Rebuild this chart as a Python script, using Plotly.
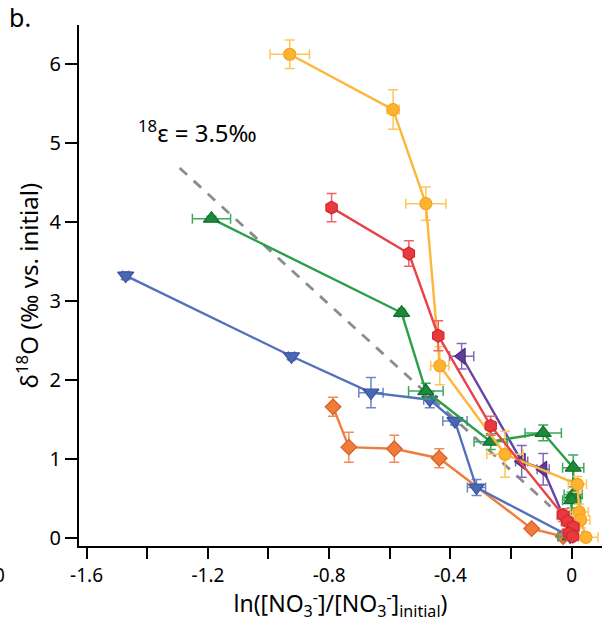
import plotly.graph_objects as go

# ---- data ----
yellow_x = [-0.93, -0.589, -0.481, -0.435, -0.22, 0.019, 0.025, 0.03, 0.047]
yellow_y = [6.12, 5.42, 4.23, 2.18, 1.06, 0.68, 0.33, 0.23, 0.01]
yellow_ex = [0.065, 0.02, 0.066, 0.03, 0.06, 0.03, 0.03, 0.03, 0.04]
yellow_ey = [0.18, 0.25, 0.21, 0.24, 0.29, 0.1, 0.1, 0.1, 0.05]

red_x = [-0.792, -0.537, -0.44, -0.267, -0.028, -0.014, 0.005, -0.008, 0.003]
red_y = [4.18, 3.60, 2.56, 1.42, 0.29, 0.21, 0.14, 0.06, 0.02]
red_ex = [0.01, 0.01, 0.01, 0.015, 0.02, 0.02, 0.02, 0.02, 0.02]
red_ey = [0.18, 0.16, 0.19, 0.12, 0.08, 0.06, 0.06, 0.06, 0.05]

green_x = [-1.188, -0.561, -0.481, -0.267, -0.094, 0.005, 0.005, 0.0, -0.005]
green_y = [4.04, 2.85, 1.86, 1.22, 1.33, 0.89, 0.55, 0.48, 0.02]
green_ex = [0.063, 0.01, 0.057, 0.055, 0.06, 0.035, 0.03, 0.03, 0.04]
green_ey = [0.03, 0.03, 0.1, 0.1, 0.1, 0.16, 0.1, 0.1, 0.05]

blue_x = [-1.471, -0.924, -0.662, -0.468, -0.385, -0.314, -0.005]
blue_y = [3.32, 2.30, 1.84, 1.75, 1.48, 0.64, 0.02]
blue_ex = [0.01, 0.01, 0.04, 0.02, 0.04, 0.03, 0.04]
blue_ey = [0.05, 0.04, 0.19, 0.1, 0.05, 0.1, 0.04]

purple_x = [-0.363, -0.165, -0.094, -0.002]
purple_y = [2.30, 0.97, 0.87, 0.05]
purple_ex = [0.04, 0.02, 0.02, 0.02]
purple_ey = [0.16, 0.2, 0.2, 0.05]

orange_x = [-0.787, -0.735, -0.585, -0.437, -0.132, -0.028]
orange_y = [1.66, 1.15, 1.13, 1.01, 0.12, 0.02]
orange_ex = [0.005, 0.01, 0.01, 0.01, 0.01, 0.01]
orange_ey = [0.12, 0.19, 0.17, 0.12, 0.04, 0.03]

# Rayleigh fractionation line: d18O = -eps * ln(f) + b
eps = 3.5
eps_intercept = 0.155
eps_line_x = [-1.293, -0.07]
eps_line_y = [-eps * v + eps_intercept for v in eps_line_x]

x_tickvals = [-1.6, -1.2, -0.8, -0.4, 0]
x_ticktext = ["-1.6", "-1.2", "-0.8", "-0.4", "0"]
y_tickvals = [0, 1, 2, 3, 4, 5, 6]

FONT = "Noto Sans"

fig = go.Figure()

fig.add_trace(go.Scatter(
    x=eps_line_x, y=eps_line_y, mode="lines",
    line=dict(color="#8c8c8c", width=2.8, dash="10px,9px"),
    hoverinfo="skip", showlegend=False))


def add_series(x, y, ex, ey, line_col, mk_col, edge_col, err_col, symbol, size):
    fig.add_trace(go.Scatter(
        x=x, y=y, mode="lines+markers",
        line=dict(color=line_col, width=2.4),
        marker=dict(symbol=symbol, size=size, color=mk_col,
                    line=dict(color=edge_col, width=1.2)),
        error_x=dict(type="data", array=ex, color=err_col, thickness=1.5, width=5),
        error_y=dict(type="data", array=ey, color=err_col, thickness=1.5, width=5),
        showlegend=False))


add_series(orange_x, orange_y, orange_ex, orange_ey,
           "#f07d3c", "#f07b3a", "#d65f25", "#f4895a", "diamond", 12)
add_series(blue_x, blue_y, blue_ex, blue_ey,
           "#5371bb", "#4a67b4", "#3a53a0", "#6c86c6", "triangle-down", 14)
add_series(purple_x, purple_y, purple_ex, purple_ey,
           "#6644a3", "#5e3d99", "#4a2c86", "#8468b8", "triangle-left", 14)
add_series(green_x, green_y, green_ex, green_ey,
           "#2b9e48", "#1b8a3a", "#146d2c", "#3ea95a", "triangle-up", 14)
add_series(yellow_x, yellow_y, yellow_ex, yellow_ey,
           "#fdb63a", "#fdb32f", "#f5a21f", "#ffc55a", "circle", 12)
add_series(red_x, red_y, red_ex, red_ey,
           "#ea4246", "#e8393e", "#d0282d", "#ee6469", "hexagon", 13)

fig.update_layout(
    width=602, height=622,
    margin=dict(l=79, r=0, t=25, b=76, autoexpand=False),
    plot_bgcolor="white", paper_bgcolor="white",
    font=dict(family=FONT, color="black", size=18),
    xaxis=dict(
        range=[-1.625, 0.1], showgrid=False, zeroline=False,
        showline=True, linecolor="black", linewidth=2,
        ticks="outside", ticklen=11, tickwidth=2, tickcolor="black",
        tickvals=x_tickvals, ticktext=x_ticktext,
        tickfont=dict(size=19, family=FONT),
        minor=dict(dtick=0.2, tick0=0, ticks="outside", ticklen=11,
                   tickwidth=2, tickcolor="black", showgrid=False),
        title=dict(text="ln([NO<sub>3</sub><sup>-</sup>]/[NO<sub>3</sub><sup>-</sup>]<sub>initial</sub>)",
                   font=dict(size=23, family=FONT), standoff=6),
        automargin=False,
    ),
    yaxis=dict(
        range=[-0.1, 6.49], showgrid=False, zeroline=False,
        showline=True, linecolor="black", linewidth=2,
        ticks="outside", ticklen=12, tickwidth=2, tickcolor="black",
        tickvals=y_tickvals, tickfont=dict(size=20, family=FONT),
        title=dict(text="δ<sup>18</sup>O (‰ vs. initial)",
                   font=dict(size=24, family=FONT), standoff=4),
        automargin=False,
    ),
    annotations=[
        dict(text="b.", xref="paper", yref="paper",
             x=(7 - 79) / 523, y=1 + (25 + 2) / 521, xanchor="left", yanchor="top",
             showarrow=False, font=dict(size=25, family=FONT)),
        dict(text="<sup>18</sup>ε = 3.5‰", xref="paper", yref="paper",
             x=(197 - 79) / 523, y=(546 - 131) / 521, xanchor="center", yanchor="middle",
             showarrow=False, font=dict(size=24, family=FONT)),
        dict(text="0", xref="paper", yref="paper",
             x=(7 - 79) / 523, y=(546 - 575) / 521, xanchor="right", yanchor="middle",
             showarrow=False, font=dict(size=19, family=FONT)),
    ],
)

# remove the default 8px page margin so the figure fills the window exactly
fig.write_html("out.html",
               config={"displayModeBar": False},
               post_script="document.body.style.margin='0';document.body.style.overflow='hidden';")
